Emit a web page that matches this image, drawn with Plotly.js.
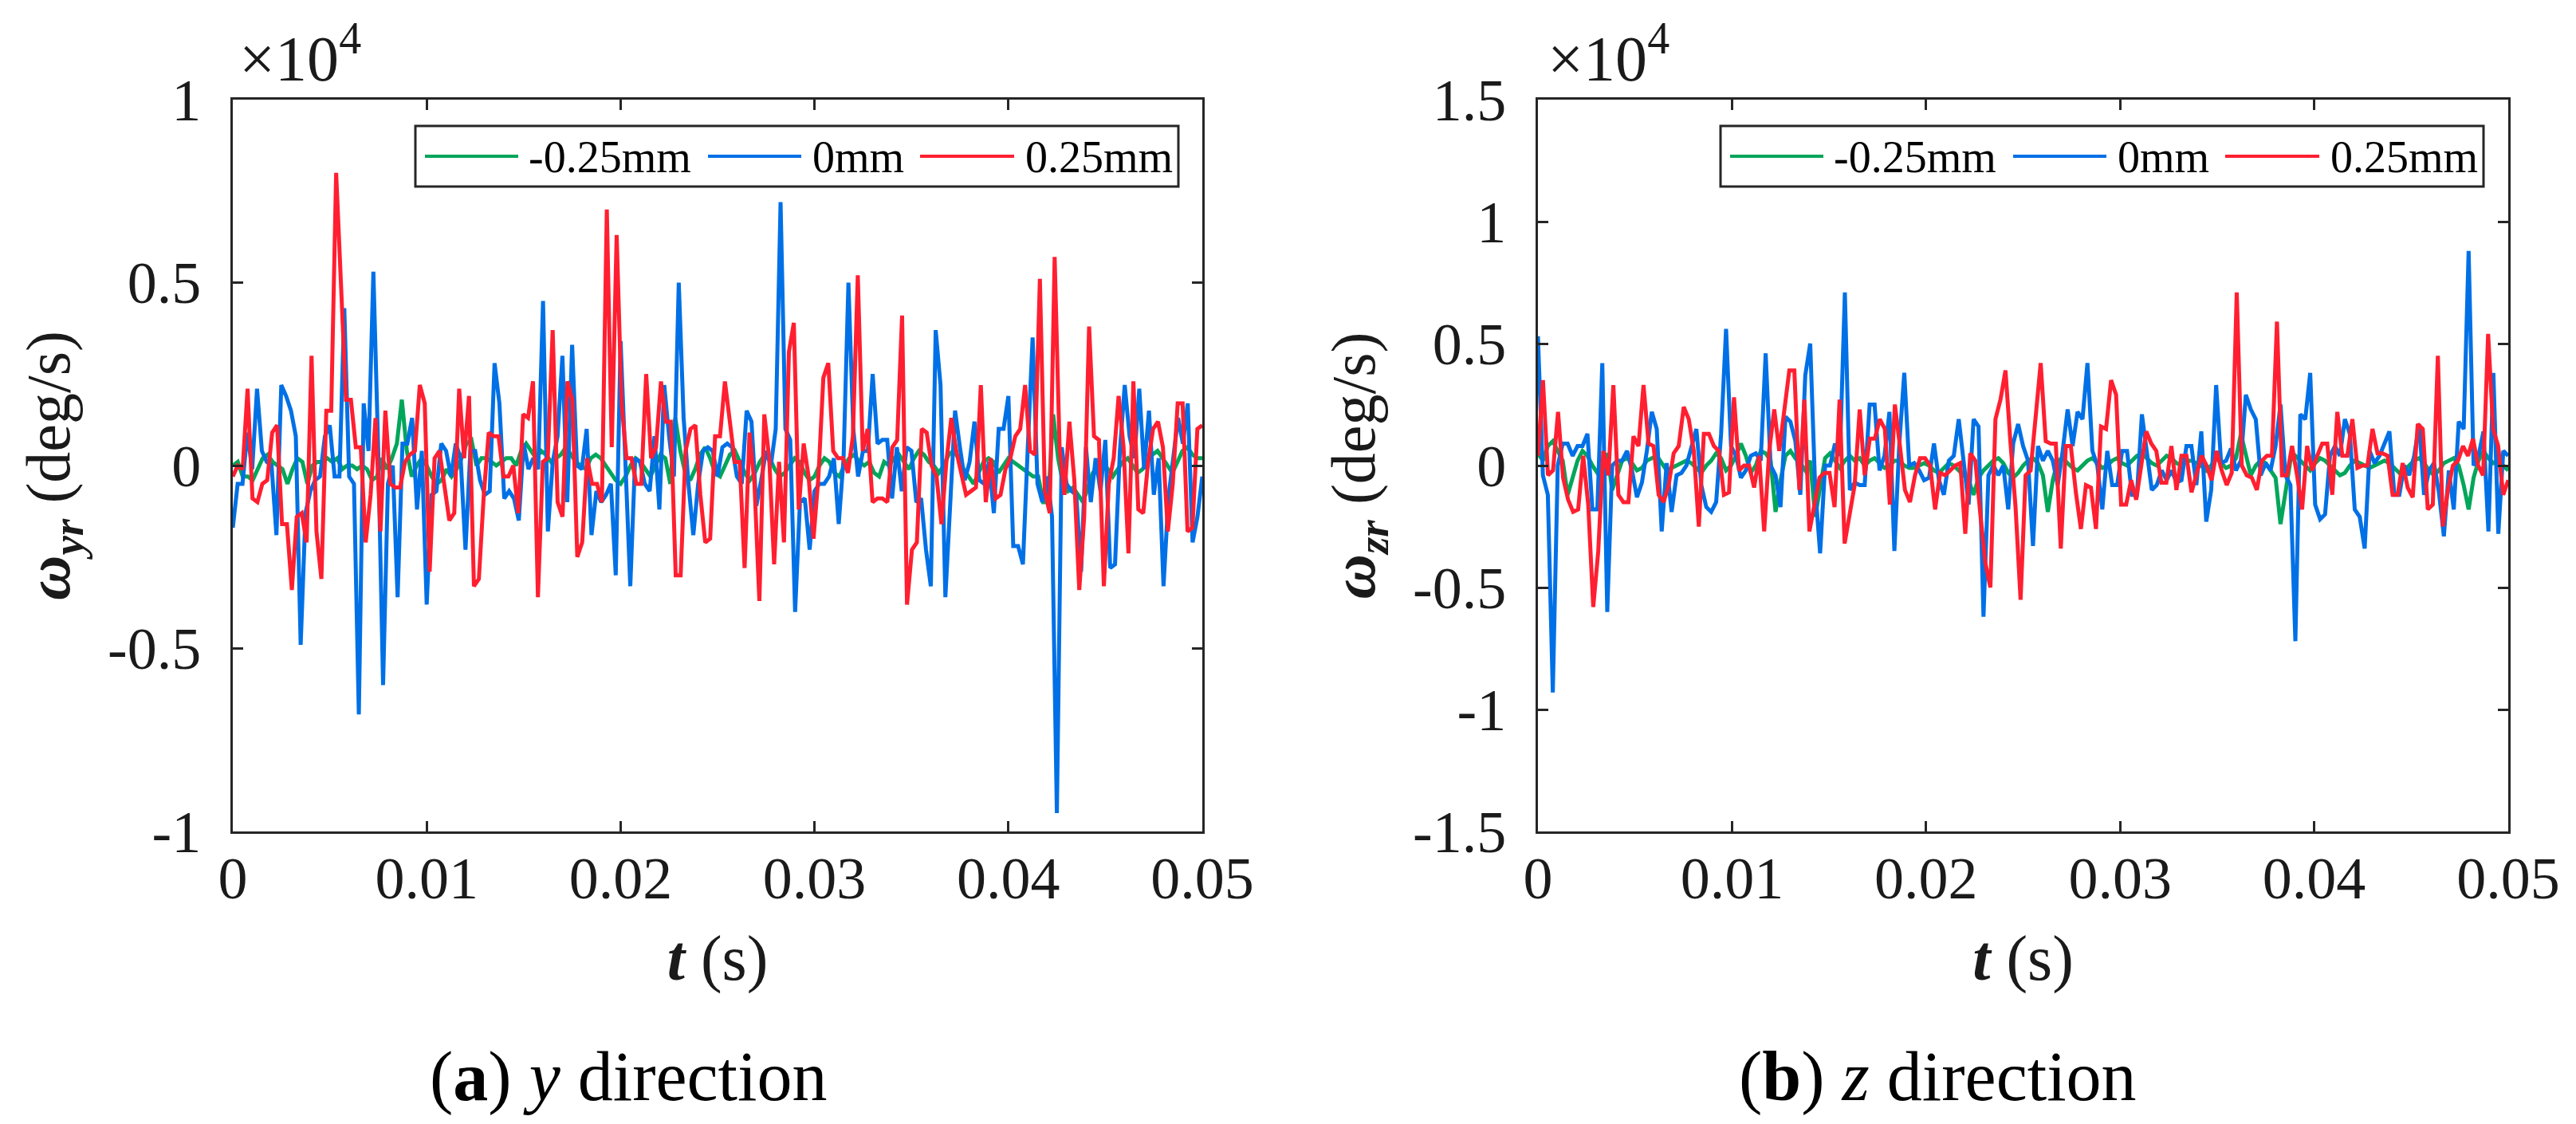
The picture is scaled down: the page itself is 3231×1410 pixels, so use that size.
<!DOCTYPE html>
<html>
<head>
<meta charset="utf-8">
<script src="https://cdn.plot.ly/plotly-3.0.1.min.js"></script>
<style>html,body{margin:0;padding:0;background:#fff;}#chart{width:3231px;height:1410px;}</style>
</head>
<body>
<div id="chart"></div>
<script>
const seriesNames = ['-0.25mm', '0mm', '0.25mm'];
const seriesColors = ['#00A65A', '#0070E6', '#FF1F30'];

const yGreen = [0.00,0.01,-0.03,-0.03,-0.04,-0.01,0.02,0.03,0.01,0.00,-0.01,-0.05,-0.01,0.02,0.01,-0.05,0.00,0.01,0.01,0.02,0.01,0.02,-0.01,0.00,0.00,-0.01,0.00,-0.01,-0.04,-0.03,0.02,-0.01,0.02,0.06,0.18,0.04,-0.03,0.00,0.02,0.00,-0.03,-0.05,-0.04,-0.01,-0.03,-0.01,0.02,0.06,0.07,0.00,0.02,0.02,0.01,0.00,0.01,0.02,0.02,0.00,0.04,0.06,0.04,0.02,0.04,0.03,0.01,0.02,
  0.03,0.05,0.03,0.01,0.00,-0.01,0.02,0.03,0.02,0.00,-0.02,-0.04,-0.05,-0.03,0.00,0.02,0.01,-0.01,-0.03,0.00,0.03,0.02,-0.05,0.13,0.04,-0.02,-0.04,-0.01,0.03,0.05,0.02,-0.02,-0.03,0.00,0.03,0.04,0.01,-0.02,-0.04,-0.02,0.01,0.03,0.02,-0.01,-0.03,-0.02,0.00,0.02,0.01,-0.02,-0.04,-0.03,0.00,0.02,0.01,-0.02,-0.03,0.00,0.02,0.03,0.01,0.00,0.01,-0.02,-0.03,0.01,
  0.00,0.02,0.03,0.01,-0.01,0.02,0.04,0.03,0.01,0.00,-0.02,0.00,0.03,0.04,0.02,-0.01,-0.03,-0.05,-0.02,0.01,0.02,0.01,-0.02,0.00,0.02,0.01,0.00,-0.01,-0.02,-0.03,-0.03,-0.10,-0.10,0.14,0.02,-0.05,-0.07,-0.06,-0.08,-0.10,-0.06,-0.02,0.00,0.01,-0.01,-0.03,-0.01,0.01,0.02,0.00,-0.02,-0.01,0.01,0.03,0.04,0.02,0.00,-0.02,0.01,0.04,0.05,0.03,0.02,0.02];

const yBlue = [-0.17,-0.05,-0.05,0.09,-0.01,0.21,0.04,0.01,0.00,-0.19,0.22,0.19,0.15,0.08,-0.49,-0.13,-0.07,-0.04,-0.03,0.08,0.11,-0.03,-0.03,0.43,-0.03,-0.05,-0.68,0.17,0.04,0.53,0.04,-0.60,-0.05,0.00,-0.36,0.06,0.06,0.13,-0.12,0.04,-0.38,-0.08,-0.07,0.06,0.04,-0.03,0.06,0.02,-0.23,0.04,0.04,-0.04,-0.08,-0.07,0.28,0.17,-0.09,-0.07,-0.09,-0.15,0.06,-0.01,0.02,-0.01,0.45,-0.18,0.01,0.08,0.30,
  -0.10,0.33,0.00,-0.01,0.10,-0.19,-0.07,-0.10,-0.08,-0.05,-0.30,0.34,0.02,-0.33,0.02,0.01,-0.05,-0.07,0.08,-0.12,0.22,0.08,-0.03,0.50,0.13,-0.05,-0.19,-0.05,0.04,0.05,0.04,-0.03,0.05,0.06,0.05,-0.03,-0.05,0.15,0.12,-0.11,-0.04,0.04,0.00,0.10,0.72,0.10,0.07,-0.40,-0.10,-0.09,-0.23,-0.07,-0.05,-0.05,-0.03,0.02,-0.16,0.02,0.50,0.10,-0.03,0.04,0.04,0.25,0.06,0.07,
  0.07,-0.09,0.05,-0.07,0.05,0.04,-0.10,-0.09,-0.23,-0.33,0.37,0.22,-0.36,-0.10,0.15,0.05,-0.04,0.01,0.12,-0.04,-0.05,0.01,-0.13,0.10,0.10,0.19,-0.22,-0.22,-0.27,0.05,0.35,-0.05,-0.10,-0.03,-0.14,-0.95,0.05,-0.05,-0.07,-0.08,-0.29,0.05,-0.10,0.02,-0.07,0.07,-0.28,-0.27,0.04,0.22,0.08,0.02,0.21,-0.01,0.15,-0.08,0.02,-0.33,-0.09,0.02,0.13,0.06,0.17,-0.21,-0.14,-0.03];

const yRed = [-0.03,0.00,-0.01,0.21,-0.09,-0.10,-0.05,-0.04,0.09,0.11,-0.16,-0.16,-0.34,-0.14,-0.13,-0.21,0.30,-0.18,-0.31,0.15,0.15,0.80,0.49,0.18,0.18,0.05,0.05,-0.21,-0.08,0.13,-0.18,0.15,-0.05,-0.06,-0.06,0.01,0.03,0.04,0.22,0.17,-0.29,0.02,0.04,-0.05,-0.15,-0.13,0.21,0.02,0.19,-0.33,-0.31,-0.08,0.09,0.08,0.08,-0.03,-0.03,0.00,-0.13,0.14,0.13,0.23,-0.36,0.01,0.02,0.37,-0.10,
  -0.14,0.23,0.18,-0.25,-0.21,0.02,-0.05,-0.05,-0.10,0.70,0.05,0.63,0.17,0.02,0.02,-0.05,-0.05,0.25,0.02,0.05,0.23,0.12,0.12,-0.30,-0.30,0.04,0.10,0.11,-0.08,-0.21,-0.20,0.08,0.08,0.23,0.12,0.01,0.01,-0.28,0.09,-0.05,-0.37,0.14,0.02,-0.27,0.01,-0.21,0.31,0.39,-0.12,0.06,-0.03,-0.20,-0.03,0.24,0.28,0.04,0.02,0.02,-0.02,0.08,0.52,0.04,0.10,-0.10,-0.09,
  -0.09,-0.10,0.05,0.07,0.41,-0.38,-0.23,-0.21,0.10,0.09,0.00,-0.03,-0.16,0.01,0.13,0.04,-0.02,-0.08,-0.07,-0.06,0.22,-0.10,0.02,-0.09,-0.08,-0.01,0.02,0.08,0.10,0.22,0.04,0.03,0.51,-0.07,-0.13,0.57,0.05,-0.08,0.12,-0.04,-0.34,-0.14,0.38,0.08,0.07,-0.33,-0.05,0.02,0.19,0.05,-0.24,0.23,-0.12,-0.13,0.01,0.10,0.12,0.05,-0.18,-0.05,0.17,0.17,-0.18,-0.17,0.10,0.11];

const zGreen = [0.05,0.02,0.08,0.10,0.06,0.02,-0.12,-0.05,0.02,0.06,0.04,0.00,-0.03,0.00,0.05,-0.10,-0.04,0.02,0.03,0.01,-0.02,-0.01,0.02,0.03,0.04,0.01,-0.02,-0.01,0.00,0.01,0.02,0.01,-0.01,-0.03,0.00,0.02,0.05,0.03,-0.02,0.00,0.04,0.09,0.04,-0.03,0.00,0.06,0.05,0.02,-0.19,-0.06,0.04,0.06,0.03,0.01,-0.02,0.02,-0.21,-0.10,0.03,0.05,0.02,-0.01,0.02,0.04,0.02,0.03,
  0.00,0.02,0.03,0.01,-0.01,0.00,0.02,0.02,0.00,-0.01,-0.01,0.00,0.01,0.00,-0.02,-0.03,-0.01,0.01,0.00,-0.02,-0.04,-0.06,-0.12,-0.05,-0.02,0.00,0.02,0.03,0.01,-0.03,-0.05,-0.03,0.00,0.02,0.03,0.01,-0.04,-0.19,-0.06,0.02,0.03,0.01,-0.01,-0.02,0.00,0.02,0.03,0.01,-0.01,0.00,0.02,0.03,0.01,0.00,0.02,0.04,0.05,0.03,0.01,0.00,0.02,0.04,0.03,0.01,0.00,0.02,
  0.02,0.01,0.00,-0.02,0.00,0.03,0.01,-0.01,0.00,0.03,0.13,0.05,-0.04,0.00,0.02,0.01,-0.02,-0.05,-0.24,-0.10,0.02,0.04,0.02,0.00,-0.02,0.01,0.03,0.02,0.00,-0.02,-0.04,-0.03,0.00,0.02,0.01,0.00,-0.01,0.00,0.01,0.02,0.01,-0.01,-0.03,-0.02,0.00,0.02,0.03,0.01,-0.02,-0.04,-0.02,0.01,0.02,0.03,0.00,-0.08,-0.18,-0.05,0.02,0.06,0.03,0.01,0.02,0.00,-0.02];

const zBlue = [0.53,-0.04,-0.12,-0.93,0.00,0.09,0.09,0.04,0.08,0.08,0.13,-0.18,-0.18,0.42,-0.60,0.00,0.02,0.02,0.06,-0.02,-0.13,-0.07,0.06,0.22,0.15,-0.27,0.01,-0.19,-0.04,-0.03,0.00,0.07,0.15,-0.08,-0.17,-0.19,-0.15,0.13,0.56,0.08,0.04,-0.05,-0.02,0.04,0.05,0.02,0.46,0.00,-0.04,-0.17,0.20,0.18,0.10,-0.12,0.37,0.50,-0.09,-0.36,0.00,0.00,0.09,0.04,0.71,-0.10,-0.07,-0.08,-0.08,0.25,
  0.25,-0.02,0.04,0.22,-0.35,0.09,0.38,0.00,0.01,-0.02,-0.06,-0.05,0.09,-0.06,-0.12,0.02,0.04,0.19,0.02,-0.16,0.19,0.16,-0.62,-0.04,0.00,-0.04,0.00,-0.18,0.09,0.17,0.08,0.02,-0.33,0.08,0.02,0.06,0.02,-0.08,0.06,0.23,0.08,0.22,0.19,0.42,0.06,0.00,-0.18,0.06,-0.08,-0.08,0.06,0.06,-0.12,-0.12,0.21,0.06,-0.10,-0.08,-0.02,-0.06,-0.02,-0.07,-0.06,0.08,
  0.08,-0.08,0.14,-0.23,-0.10,0.33,0.01,0.02,0.07,-0.02,0.02,0.29,0.23,0.19,-0.04,0.01,-0.02,0.08,0.25,-0.04,-0.08,-0.72,0.21,0.19,0.38,-0.16,-0.22,-0.20,0.04,0.08,0.04,0.19,0.13,-0.18,-0.21,-0.34,0.06,0.01,0.04,0.09,0.14,-0.12,-0.12,0.00,-0.04,0.04,0.17,-0.12,-0.02,0.01,-0.11,-0.29,-0.02,-0.18,0.18,0.15,0.88,0.00,0.04,0.14,-0.27,0.38,-0.28,0.06,0.04];

const zRed = [0.04,0.35,-0.04,-0.02,0.22,-0.05,-0.14,-0.19,-0.18,0.04,-0.16,-0.58,-0.35,0.06,-0.04,0.33,-0.12,-0.15,-0.15,0.12,0.08,0.33,0.09,0.08,-0.12,-0.15,-0.08,0.05,0.08,0.24,0.19,0.06,-0.25,0.13,0.13,0.08,0.06,-0.12,-0.11,0.28,-0.02,0.00,0.00,-0.09,0.04,-0.27,0.06,0.23,0.06,0.22,0.39,0.39,-0.10,0.27,-0.27,-0.16,-0.05,-0.03,-0.03,-0.17,0.27,-0.32,-0.20,-0.08,0.23,-0.04,0.11,
  0.11,0.19,0.15,-0.16,0.25,0.08,-0.10,-0.15,-0.04,0.03,0.03,0.00,-0.18,-0.03,-0.04,-0.02,0.00,0.01,-0.28,0.05,0.02,-0.20,-0.40,-0.50,0.19,0.27,0.39,0.09,-0.17,-0.55,-0.04,-0.02,0.22,0.42,0.10,0.09,0.09,-0.34,0.08,0.08,-0.11,-0.26,-0.08,-0.09,-0.26,0.16,0.15,0.35,0.29,-0.16,-0.16,-0.06,-0.14,0.00,0.14,0.09,0.06,-0.07,-0.07,0.08,-0.10,0.04,0.04,-0.11,-0.04,0.04,
  0.00,-0.06,0.06,-0.02,-0.08,-0.03,0.71,0.00,-0.04,-0.05,-0.10,0.02,0.04,0.04,0.59,-0.04,-0.04,0.08,-0.04,-0.18,0.08,-0.02,0.04,0.09,0.09,-0.12,0.22,0.04,0.04,0.19,-0.01,0.00,0.00,0.15,0.05,0.05,0.04,-0.12,-0.12,0.01,-0.09,-0.13,0.17,0.15,-0.18,-0.16,0.45,-0.25,-0.10,0.00,0.02,0.08,0.04,0.11,0.00,-0.04,0.54,0.15,0.08,-0.12,-0.06];

const tRange = [0, 0.05];
const xTickVals = [0, 0.01, 0.02, 0.03, 0.04, 0.05];
const xTickText = ['0', '0.01', '0.02', '0.03', '0.04', '0.05'];
const yTickValsA = [-1, -0.5, 0, 0.5, 1];
const yTickTextA = ['-1', '-0.5', '0', '0.5', '1'];
const yTickValsB = [-1.5, -1, -0.5, 0, 0.5, 1, 1.5];
const yTickTextB = ['-1.5', '-1', '-0.5', '0', '0.5', '1', '1.5'];
const captions = ['(<b>a</b>) <i>y</i> direction', '(<b>b</b>) <i>z</i> direction'];
const yTitles = ['<b><i>ω</i></b><sub><b><i>yr</i></b></sub> (deg/s)', '<b><i>ω</i></b><sub><b><i>zr</i></b></sub> (deg/s)'];
const xTitle = '<b><i>t</i></b> (s)';
const expLabel = '×10<sup>4</sup>';

// ---- layout helpers (pixels of the 3231x1410 canvas) ----
const W = 3231, H = 1410;
const M = {l: 292, r: 85, t: 125, b: 367};
const PW = W - M.l - M.r, PH = H - M.t - M.b;
const px = v => (v - M.l) / PW;
const py = v => (H - M.b - v) / PH;
const FONT = 'Liberation Serif, Times New Roman, serif';
const INK = '#262626';

function times(n) {
  const out = [];
  for (let i = 0; i < n; i++) out.push(tRange[0] + (tRange[1] - tRange[0]) * i / (n - 1));
  return out;
}

const panels = [
  {vals: [yGreen, yBlue, yRed], xa: 'x', ya: 'y'},
  {vals: [zGreen, zBlue, zRed], xa: 'x2', ya: 'y2'}
];
const traces = [];
panels.forEach(p => {
  p.vals.forEach((v, k) => {
    traces.push({
      type: 'scatter', mode: 'lines', x: times(v.length), y: v,
      xaxis: p.xa, yaxis: p.ya, name: seriesNames[k], showlegend: false,
      line: {color: seriesColors[k], width: 5}
    });
  });
});

function xAxis(domain, anchor) {
  return {
    domain: domain, anchor: anchor, range: tRange, tickvals: xTickVals, ticktext: xTickText,
    ticks: 'inside', ticklen: 13, tickwidth: 3, tickcolor: INK,
    showline: true, linewidth: 3, linecolor: INK, mirror: 'ticks',
    showgrid: false, zeroline: false, ticklabelstandoff: -8,
    tickfont: {family: FONT, size: 74, color: '#1a1a1a'},
    title: {text: xTitle, font: {family: FONT, size: 80, color: '#1a1a1a'}, standoff: 32}
  };
}
function yAxis(range, tv, tt, title, anchor) {
  return {
    domain: [0, 1], range: range, tickvals: tv, ticktext: tt, anchor: anchor,
    ticks: 'inside', ticklen: 13, tickwidth: 3, tickcolor: INK,
    showline: true, linewidth: 3, linecolor: INK, mirror: 'ticks',
    showgrid: false, zeroline: false, ticklabelstandoff: 22,
    tickfont: {family: FONT, size: 74, color: '#1a1a1a'},
    title: {text: title, font: {family: FONT, size: 78, color: '#1a1a1a'}, standoff: 22}
  };
}

const shapes = [], annotations = [];
const legTop = 158, legBot = 234, legMid = 196;
[0, 1637].forEach((dx, i) => {
  // legend box
  shapes.push({type: 'rect', xref: 'paper', yref: 'paper', x0: px(521 + dx), x1: px(1478 + dx),
    y0: py(legBot), y1: py(legTop), line: {color: INK, width: 3}, fillcolor: '#ffffff', layer: 'above'});
  const segs = [[533, 650, 661], [888, 1005, 1017], [1154, 1272, 1284]];
  segs.forEach((s, k) => {
    shapes.push({type: 'line', xref: 'paper', yref: 'paper', x0: px(s[0] + dx), x1: px(s[1] + dx),
      y0: py(legMid), y1: py(legMid), line: {color: seriesColors[k], width: 4}, layer: 'above'});
    annotations.push({xref: 'paper', yref: 'paper', x: px(s[2] + dx), y: py(legMid + 1), xanchor: 'left', yanchor: 'middle',
      text: seriesNames[k], showarrow: false, font: {family: FONT, size: 56, color: '#000'}});
  });
  // exponent label
  annotations.push({xref: 'paper', yref: 'paper', x: px(298 + dx + (i ? 4 : 0)), y: py(120), xanchor: 'left', yanchor: 'bottom',
    text: expLabel, showarrow: false, font: {family: FONT, size: 80, color: '#1a1a1a'}});
  // caption
  annotations.push({xref: 'paper', yref: 'paper', x: px([788, 2430][i]), y: py(1350), xanchor: 'center', yanchor: 'middle',
    text: captions[i], showarrow: false, font: {family: FONT, size: 88, color: '#000'}});
});

const layout = {
  width: W, height: H, margin: M,
  paper_bgcolor: '#ffffff', plot_bgcolor: '#ffffff', showlegend: false,
  xaxis: xAxis([0, 1216 / PW], 'y'),
  xaxis2: xAxis([1637 / PW, 1], 'y2'),
  yaxis: yAxis([-1, 1], yTickValsA, yTickTextA, yTitles[0], 'x'),
  yaxis2: yAxis([-1.5, 1.5], yTickValsB, yTickTextB, yTitles[1], 'x2'),
  shapes: shapes, annotations: annotations
};

Plotly.newPlot('chart', traces, layout, {staticPlot: true, displayModeBar: false});
</script>
</body>
</html>
